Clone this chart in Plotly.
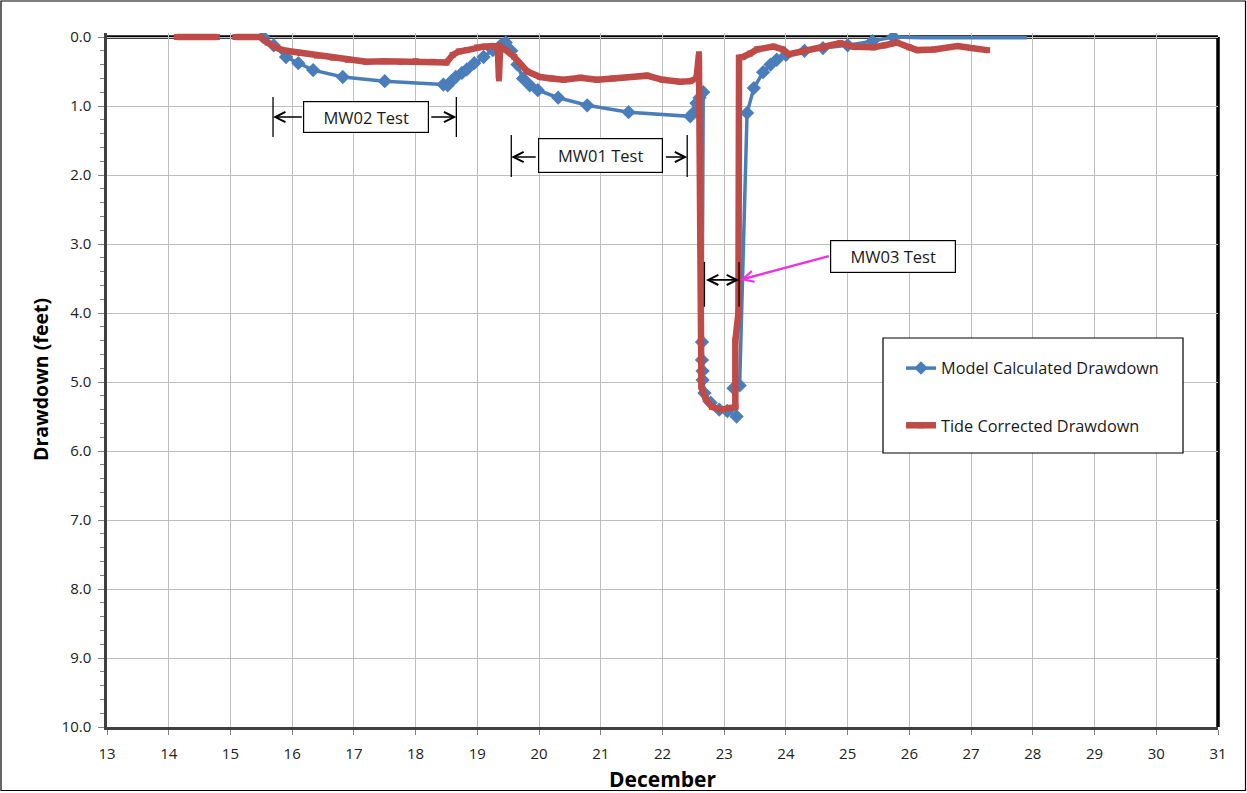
import plotly.graph_objects as go

# ---------------- data ----------------
model_day = [15.53, 15.70, 15.90, 16.10, 16.34, 16.82, 17.50, 18.45, 18.52, 18.58,
             18.65, 18.75, 18.83, 18.95, 19.10, 19.25, 19.38, 19.46, 19.55, 19.65,
             19.74, 19.85, 19.98, 20.31, 20.78, 21.45, 22.45, 22.50, 22.55, 22.60,
             22.66, 22.64, 22.64, 22.65, 22.65, 22.68, 22.78, 22.92, 23.05, 23.20,
             23.15, 23.25, 23.37, 23.48, 23.63, 23.75, 23.85, 24.00, 24.30, 24.60,
             25.00, 25.40, 25.74, 26.20, 27.00, 27.90]
model_dd = [0.00, 0.12, 0.29, 0.38, 0.48, 0.58, 0.64, 0.69, 0.70, 0.64,
            0.58, 0.52, 0.47, 0.38, 0.29, 0.19, 0.12, 0.08, 0.20, 0.40,
            0.60, 0.70, 0.77, 0.88, 0.99, 1.09, 1.15, 1.10, 0.96, 0.88,
            0.80, 4.42, 4.68, 4.84, 4.97, 5.16, 5.30, 5.40, 5.42, 5.50,
            5.09, 5.05, 1.10, 0.74, 0.51, 0.40, 0.33, 0.26, 0.20, 0.16,
            0.12, 0.06, 0.00, 0.01, 0.01, 0.01]

tide_day = [14.13, 14.40, 14.78, None, 15.08, 15.30, 15.48, 15.60, 15.75, 15.90,
            16.13, 16.40, 16.66, 16.90, 17.20, 17.50, 17.75, 18.00, 18.28, 18.50,
            18.60, 18.70, 18.83, 19.00, 19.10, 19.25, 19.33, 19.35, 19.37, 19.45,
            19.60, 19.81, 20.02, 20.20, 20.40, 20.67, 20.94, 21.20, 21.48, 21.75,
            22.00, 22.29, 22.45, 22.55, 22.59, 22.63, 22.70, 22.80, 22.95, 23.10,
            23.18, 23.18, 23.23, 23.24, 23.30, 23.42, 23.53, 23.80, 23.95, 24.05,
            24.30, 24.60, 24.88, 25.10, 25.42, 25.60, 25.80, 26.00, 26.13, 26.40,
            26.78, 27.00, 27.26]
tide_dd = [0.00, 0.00, 0.00, None, 0.00, 0.00, 0.00, 0.08, 0.16, 0.20,
           0.23, 0.27, 0.30, 0.33, 0.36, 0.35, 0.36, 0.35, 0.36, 0.37,
           0.26, 0.21, 0.19, 0.15, 0.14, 0.13, 0.14, 0.60, 0.14, 0.18,
           0.29, 0.50, 0.58, 0.60, 0.62, 0.59, 0.62, 0.60, 0.58, 0.56,
           0.62, 0.65, 0.64, 0.60, 0.25, 5.07, 5.25, 5.36, 5.40, 5.38,
           5.36, 4.40, 4.00, 0.30, 0.29, 0.24, 0.18, 0.14, 0.18, 0.25,
           0.20, 0.16, 0.09, 0.14, 0.15, 0.12, 0.08, 0.15, 0.19, 0.18,
           0.13, 0.16, 0.19]

x_ticks = list(range(13, 32))
y_ticks = [0, 1, 2, 3, 4, 5, 6, 7, 8, 9, 10]
y_tick_labels = ["%.1f" % v for v in y_ticks]

# ---------------- layout constants ----------------
W, H = 1247, 793
ML, MR, MT, MB = 107, 29, 33, 66
PW, PH = W - ML - MR, H - MT - MB
Y_TOP = -0.058


def px_x(p):
    return (p - ML) / PW


def px_y(p):
    return 1 - (p - MT) / PH


BLUE = "#4A7EBB"
RED = "#BE4B48"
FONT = "Open Sans"

# diamonds of the model points lying on the top border are hidden there
model_marker_size = [0 if (d > 25.8 and v <= 0.01) else 11 for d, v in zip(model_day, model_dd)]

fig = go.Figure()
fig.add_trace(go.Scatter(
    x=model_day, y=model_dd, mode="lines+markers", name="Model Calculated Drawdown",
    legendgroup="a",
    line=dict(color=BLUE, width=3.5),
    marker=dict(symbol="diamond", size=model_marker_size, color=BLUE, opacity=1,
                line=dict(width=0)),
))
fig.add_trace(go.Scatter(
    x=tide_day, y=tide_dd, mode="lines+markers", name="Tide Corrected Drawdown",
    legendgroup="b",
    line=dict(color=RED, width=6.5),
    marker=dict(symbol="square", size=6, color=RED, opacity=1, line=dict(width=0)),
    connectgaps=False,
))

shapes = []
# plot top and right borders
y0p = 10 / (10 - Y_TOP)
shapes.append(dict(type="line", xref="paper", yref="paper", x0=0, x1=1, y0=y0p, y1=y0p,
                   line=dict(color="black", width=3.5), layer="between"))
shapes.append(dict(type="line", xref="paper", yref="paper", x0=1, x1=1, y0=0, y1=y0p,
                   line=dict(color="black", width=3.5), layer="between"))
# outer frame
shapes.append(dict(type="rect", xref="paper", yref="paper",
                   x0=px_x(1), x1=px_x(1245.5), y0=px_y(790.5), y1=px_y(1),
                   line=dict(color="black", width=1.2)))
# legend box
shapes.append(dict(type="rect", xref="paper", yref="paper",
                   x0=px_x(883), x1=px_x(1183), y0=px_y(453), y1=px_y(338),
                   fillcolor="white", line=dict(color="black", width=1.2), layer="above"))

# test-period bars
bars = [(15.69, 0.87, 1.45), (18.66, 0.87, 1.45),
        (19.55, 1.42, 2.03), (22.40, 1.42, 2.03),
        (22.68, 3.26, 3.91), (23.24, 3.26, 3.91)]
for bx, by0, by1 in bars:
    shapes.append(dict(type="line", xref="x", yref="y", x0=bx, x1=bx, y0=by0, y1=by1,
                       line=dict(color="black", width=1.3), layer="above"))

annotations = []


def arrow(hx, hy, tx, ty, color="black", width=1.6, side="end", size=1.25):
    annotations.append(dict(
        x=hx, y=hy, ax=tx, ay=ty, xref="x", yref="y", axref="x", ayref="y",
        text="", showarrow=True, arrowhead=5, startarrowhead=5, arrowside=side,
        arrowsize=size, startarrowsize=size, arrowwidth=width, arrowcolor=color,
        standoff=0, startstandoff=0))


# MW02
arrow(15.69, 1.16, 16.18, 1.16)
arrow(18.66, 1.16, 18.23, 1.16)
# MW01
arrow(19.55, 1.74, 19.97, 1.74)
arrow(22.40, 1.74, 22.03, 1.74)
# MW03 double arrow
arrow(23.24, 3.52, 22.68, 3.52, side="end+start")
# magenta pointer
arrow(23.26, 3.52, 24.72, 3.17, color="#EE33DD", width=2.4, size=0.9)


def label_box(x, y, text, w, h):
    annotations.append(dict(
        x=x, y=y, xref="x", yref="y", text=text, showarrow=False,
        font=dict(family=FONT, size=16.5, color="#1a1a1a"),
        bgcolor="white", bordercolor="black", borderwidth=1.2, borderpad=0,
        width=w, height=h, align="center", valign="middle"))


label_box(17.20, 1.16, "MW02 Test", 124, 30)
label_box(21.00, 1.72, "MW01 Test", 123, 33)
label_box(25.74, 3.18, "MW03 Test", 124, 31)

# axis titles
annotations.append(dict(xref="paper", yref="paper", x=px_x(40), y=px_y(380),
                        xanchor="center", yanchor="middle",
                        text="<b>Drawdown (feet)</b>", textangle=-90, showarrow=False,
                        font=dict(family=FONT, size=19.5, color="black")))
annotations.append(dict(xref="paper", yref="paper", x=px_x(662), y=px_y(779),
                        xanchor="center", yanchor="middle",
                        text="<b>December</b>", showarrow=False,
                        font=dict(family=FONT, size=21, color="black")))

fig.update_layout(
    width=W, height=H,
    margin=dict(l=ML, r=MR, t=MT, b=MB, autoexpand=False),
    paper_bgcolor="white", plot_bgcolor="white",
    font=dict(family=FONT, color="#222"),
    shapes=shapes, annotations=annotations,
    showlegend=True,
    legend=dict(x=px_x(901), y=px_y(351), xanchor="left", yanchor="top",
                bgcolor="rgba(0,0,0,0)", borderwidth=0,
                font=dict(family=FONT, size=16.3, color="#1a1a1a"),
                tracegroupgap=33, itemwidth=30),
)
fig.update_xaxes(
    range=[13, 31], tickvals=x_ticks, ticktext=[str(v) for v in x_ticks],
    showgrid=True, gridcolor="#BFBFBF", gridwidth=1,
    showline=True, linecolor="#404040", linewidth=2.5,
    ticks="outside", ticklen=5, tickcolor="#808080", ticklabelstandoff=6,
    tickfont=dict(family=FONT, size=15, color="#222"),
    zeroline=False, fixedrange=True,
)
fig.update_yaxes(
    range=[10, Y_TOP], tickvals=y_ticks, ticktext=y_tick_labels,
    showgrid=True, gridcolor="#BFBFBF", gridwidth=1,
    showline=True, linecolor="#404040", linewidth=2.5,
    ticks="outside", ticklen=6, tickcolor="#808080", ticklabelstandoff=4,
    minor=dict(dtick=0.2, ticks="outside", ticklen=4, tickcolor="#808080", showgrid=False),
    tickfont=dict(family=FONT, size=15, color="#222"),
    zeroline=False, fixedrange=True,
)

fig.write_html("out.html")
